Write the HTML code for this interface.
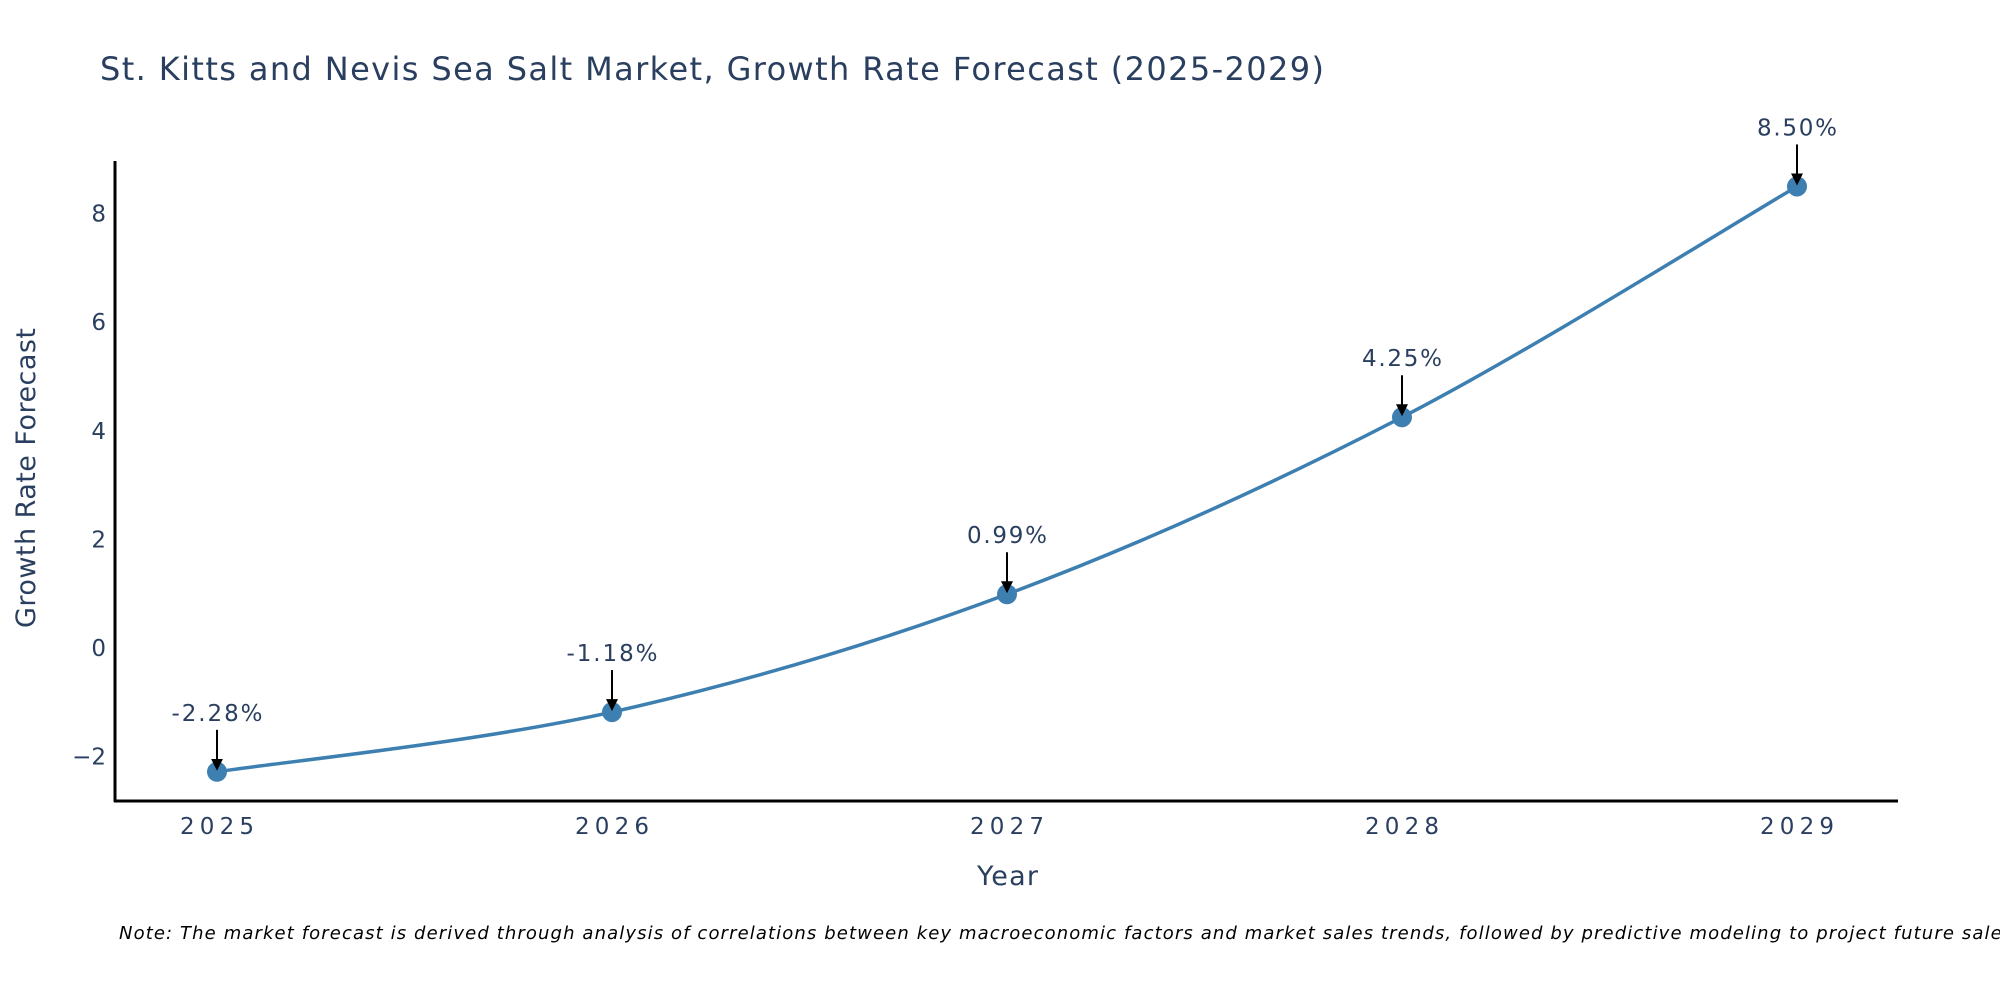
<!DOCTYPE html>
<html><head><meta charset="utf-8"><style>
body{margin:0;background:#fff}
svg{display:block;font-family:"DejaVu Sans","Liberation Sans",sans-serif}
</style></head><body>
<svg id="c" width="2000" height="1000">
<text x="100" y="80" font-size="32" fill="#2a3f5f" textLength="1224" lengthAdjust="spacing">St. Kitts and Nevis Sea Salt Market, Growth Rate Forecast (2025-2029)</text>
<line x1="115" y1="161" x2="115" y2="802" stroke="#000" stroke-width="3"/>
<line x1="114" y1="801" x2="1898" y2="801" stroke="#000" stroke-width="3"/>
<text x="977" y="885" font-size="27" fill="#2a3f5f" textLength="61" lengthAdjust="spacing">Year</text>
<text transform="translate(35,478) rotate(-90)" x="-150" y="0" font-size="27" fill="#2a3f5f" textLength="300" lengthAdjust="spacing">Growth Rate Forecast</text>
<text x="119" y="939" font-size="18" font-style="italic" fill="#000" textLength="1900" lengthAdjust="spacing">Note: The market forecast is derived through analysis of correlations between key macroeconomic factors and market sales trends, followed by predictive modeling to project future sales.</text>
<defs><marker id="ah" markerWidth="6" markerHeight="6" refX="5" refY="3" orient="auto" markerUnits="strokeWidth"><path d="M0,0 L6,3 L0,6 z" fill="#000"/></marker></defs>
</svg>
<script>
const years=[2025,2026,2027,2028,2029];
const values=[-2.28,-1.18,0.99,4.25,8.50];
const labels=["-2.28%","-1.18%","0.99%","4.25%","8.50%"];
const yTicks=[-2,0,2,4,6,8];
const yTickLabels=["\u22122","0","2","4","6","8"];
const NS="http://www.w3.org/2000/svg";
const svg=document.getElementById('c');
function X(v){return 217+(v-2025)*395;}
function Y(v){return 648-v*54.3;}
function mk(t,a){const e=document.createElementNS(NS,t);for(const k in a)e.setAttribute(k,a[k]);return e;}
yTicks.forEach((t,i)=>{const e=mk('text',{x:106,y:Y(t)+8,'font-size':23,fill:'#2a3f5f','text-anchor':'end'});


e.textContent=yTickLabels[i];svg.appendChild(e);});
years.forEach(y=>{const e=mk('text',{x:X(y)-37,y:834,'font-size':23,fill:'#2a3f5f',textLength:74,lengthAdjust:'spacing'});


e.textContent=y;svg.appendChild(e);});
const P=years.map((y,i)=>[X(y),Y(values[i])]);
let d=`M${P[0][0]},${P[0][1]}`;
for(let i=0;i<P.length-1;i++){const p0=P[Math.max(i-1,0)],p1=P[i],p2=P[i+1],p3=P[Math.min(i+2,P.length-1)];
const c1=[p1[0]+(p2[0]-p0[0])/6,p1[1]+(p2[1]-p0[1])/6],c2=[p2[0]-(p3[0]-p1[0])/6,p2[1]-(p3[1]-p1[1])/6];
d+=` C${c1[0]},${c1[1]} ${c2[0]},${c2[1]} ${p2[0]},${p2[1]}`;}
const line=mk('path',{d:d,fill:'none',stroke:'#3d7fb0','stroke-width':3.5});


svg.appendChild(line);
P.forEach((p,i)=>{const c=mk('circle',{cx:p[0],cy:p[1],r:10,fill:'#3d7fb0'});


svg.appendChild(c);
const a=mk('line',{x1:p[0],y1:p[1]-42,x2:p[0],y2:p[1]-3,stroke:'#000','stroke-width':2,'marker-end':'url(#ah)'});


svg.appendChild(a);
const w=labels[i].length>5?91:80;
const t=mk('text',{x:p[0]-w/2,y:p[1]-51,'font-size':23,fill:'#2a3f5f',textLength:w,lengthAdjust:'spacing'});


t.textContent=labels[i];svg.appendChild(t);});
</script>
</body></html>
